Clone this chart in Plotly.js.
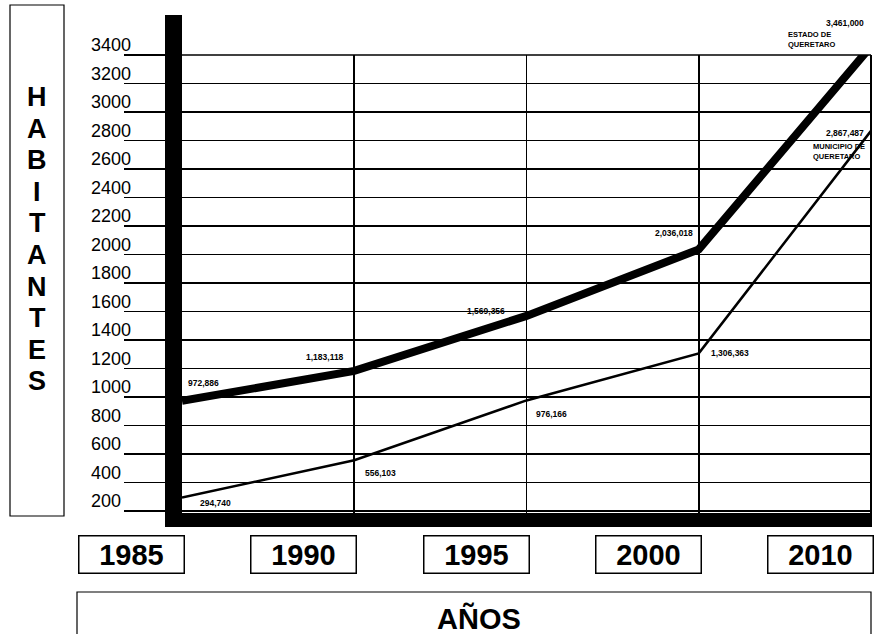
<!DOCTYPE html>
<html>
<head>
<meta charset="utf-8">
<script src="https://cdn.plot.ly/plotly-3.0.1.min.js"></script>
<style>html,body{margin:0;padding:0;background:#fff;}#chart{width:882px;height:634px;}</style>
</head>
<body>
<div id="chart"></div>
<script>
// ---- data (thousands of inhabitants) ----
var years = ['1985', '1990', '1995', '2000', '2010'];
var estado = [972.886, 1183.118, 1569.356, 2036.018, 3461.0];
var municipio = [294.740, 556.103, 976.166, 1306.363, 2867.487];
var estadoLabels = ['972,886', '1,183,118', '1,569,356', '2,036,018', '3,461,000'];
var municipioLabels = ['294,740', '556,103', '976,166', '1,306,363', '2,867,487'];
var tickVals = [200, 400, 600, 800, 1000, 1200, 1400, 1600, 1800, 2000, 2200, 2400, 2600, 2800, 3000, 3200, 3400];
var tickText = ['200', '400', '600', '800', '1000', '1200', '1400', '1600', '1800', '2000', '2200', '2400', '2600', '2800', '3000', '3200', '3400'];
var yTitle = 'HABITANTES';
var xTitle = 'AÑOS';
var estadoName = 'ESTADO DE<br>QUERETARO';
var municipioName = 'MUNICIPIO DE<br>QUERETARO';

// ---- geometry helpers (pixels -> paper) ----
var W = 882, H = 634;
var L = 182, R = 871, T = 55, B = 527;
var YMIN = 88, YMAX = 3400;
var pw = R - L, ph = B - T;
function px(x) { return (x - L) / pw; }
function py(y) { return (B - y) / ph; }
function vy(v) { return B - (v - YMIN) / (YMAX - YMIN) * ph; } // value -> pixel y

var FONT = 'Liberation Sans, Arial, Helvetica, sans-serif';
var small = {family: FONT, size: 8.5, color: '#000', weight: 'bold'};

var traces = [
  {x: years, y: estado, type: 'scatter', mode: 'lines', name: 'Estado',
   line: {color: '#000', width: 8}, hoverinfo: 'skip'},
  {x: years, y: municipio, type: 'scatter', mode: 'lines', name: 'Municipio',
   line: {color: '#000', width: 2.5}, hoverinfo: 'skip'}
];

var ann = [];
// y tick labels (left aligned, above their underline)
tickVals.forEach(function (v, i) {
  ann.push({xref: 'paper', yref: 'y', x: px(89), y: v, xanchor: 'left', yanchor: 'middle',
    yshift: 10, text: tickText[i], showarrow: false,
    font: {family: FONT, size: 18, color: '#000'}});
});
// vertical y title, one letter per line
var letters = yTitle.split('');
letters.forEach(function (ch, i) {
  ann.push({xref: 'paper', yref: 'paper', x: px(37), y: py(97 + i * 31.6),
    xanchor: 'center', yanchor: 'middle', text: ch, showarrow: false,
    font: {family: FONT, size: 27, color: '#000', weight: 'bold'}});
});
// year boxes
years.forEach(function (yr, i) {
  ann.push({xref: 'x', yref: 'paper', x: i, y: py(554.5), xanchor: 'right', yanchor: 'middle',
    xshift: 3, text: yr, showarrow: false, width: 102, height: 34, borderpad: 1,
    bordercolor: '#000', borderwidth: 1.5, bgcolor: '#fff',
    font: {family: FONT, size: 29, color: '#000', weight: 'bold'}});
});
// x title
ann.push({xref: 'paper', yref: 'paper', x: px(479), y: py(618), xanchor: 'center', yanchor: 'middle',
  text: xTitle, showarrow: false, font: {family: FONT, size: 29, color: '#000', weight: 'bold'}});

// value labels - estado (anchored in paper space from the data value so that
// points above the axis range are still labelled)
var eOff = [
  {xa: 'left', xs: 4, ys: 18},
  {xa: 'right', xs: -8, ys: 14},
  {xa: 'right', xs: -20, ys: 5},
  {xa: 'right', xs: -4, ys: 16},
  {xa: 'right', xs: -5, ys: 23}
];
estadoLabels.forEach(function (t, i) {
  ann.push({xref: 'x', yref: 'paper', x: i, y: py(vy(estado[i])), xanchor: eOff[i].xa, yanchor: 'middle',
    xshift: eOff[i].xs, yshift: eOff[i].ys, text: t, showarrow: false, font: small});
});
var mOff = [
  {xa: 'left', xs: 16, ys: -5},
  {xa: 'left', xs: 9, ys: -13},
  {xa: 'left', xs: 7, ys: -14},
  {xa: 'left', xs: 10, ys: 0},
  {xa: 'right', xs: -5, ys: -2}
];
municipioLabels.forEach(function (t, i) {
  ann.push({xref: 'x', yref: 'paper', x: i, y: py(vy(municipio[i])), xanchor: mOff[i].xa, yanchor: 'middle',
    xshift: mOff[i].xs, yshift: mOff[i].ys, text: t, showarrow: false, font: small});
});
// series names
ann.push({xref: 'x', yref: 'paper', x: 4, y: py(vy(estado[4])), xanchor: 'right', yanchor: 'middle',
  xshift: -33, yshift: 7, text: estadoName, align: 'left', showarrow: false,
  font: {family: FONT, size: 7.5, color: '#000', weight: 'bold'}});
ann.push({xref: 'x', yref: 'paper', x: 4, y: py(vy(municipio[4])), xanchor: 'right', yanchor: 'middle',
  xshift: -4, yshift: -21, text: municipioName, align: 'left', showarrow: false,
  font: {family: FONT, size: 7.5, color: '#000', weight: 'bold'}});

var shapes = [
  // HABITANTES box
  {type: 'rect', xref: 'paper', yref: 'paper', x0: px(10), x1: px(64), y0: py(516), y1: py(5),
   line: {color: '#000', width: 1.2}, fillcolor: 'rgba(0,0,0,0)'},
  // AÑOS box
  {type: 'rect', xref: 'paper', yref: 'paper', x0: px(77), x1: px(871), y0: py(660), y1: py(592),
   line: {color: '#000', width: 1.2}, fillcolor: 'rgba(0,0,0,0)'},
  // frame top and right
  {type: 'line', xref: 'paper', yref: 'paper', x0: 0, x1: 1, y0: 1, y1: 1, line: {color: '#000', width: 1.6}},
  {type: 'line', xref: 'paper', yref: 'paper', x0: 1, x1: 1, y0: 0, y1: 1, line: {color: '#000', width: 2}},
  // thick vertical axis bar
  {type: 'rect', xref: 'paper', yref: 'paper', x0: px(165), x1: px(182), y0: py(527), y1: py(15),
   line: {width: 0}, fillcolor: '#000'},
  // thick bottom axis bar
  {type: 'rect', xref: 'paper', yref: 'paper', x0: px(165), x1: px(871), y0: py(527), y1: py(513),
   line: {width: 0}, fillcolor: '#000'}
];

var layout = {
  width: W, height: H,
  margin: {l: L, r: W - R, t: T, b: H - B, pad: 0},
  paper_bgcolor: '#fff', plot_bgcolor: '#fff',
  showlegend: false,
  font: {family: FONT, color: '#000'},
  xaxis: {type: 'category', range: [0, 4], showgrid: true, gridcolor: '#000', gridwidth: 1.6,
    showticklabels: false, ticks: '', zeroline: false, showline: false, fixedrange: true},
  yaxis: {range: [YMIN, YMAX], tickmode: 'array', tickvals: tickVals, ticktext: tickText,
    showticklabels: false, showgrid: true, gridcolor: '#000', gridwidth: 1.4,
    ticks: 'outside', ticklen: 57, tickwidth: 1.4, tickcolor: '#000',
    zeroline: false, showline: false, fixedrange: true},
  annotations: ann,
  shapes: shapes
};

Plotly.newPlot('chart', traces, layout, {displayModeBar: false, staticPlot: true});
</script>
</body>
</html>
